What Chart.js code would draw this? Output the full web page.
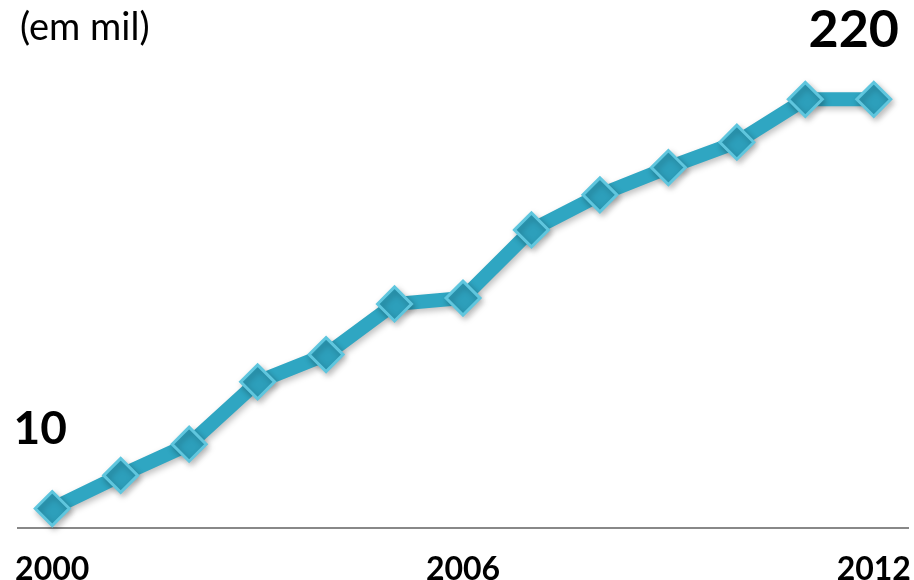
<!DOCTYPE html>
<html>
<head>
<meta charset="utf-8">
<script src="https://cdn.jsdelivr.net/npm/chart.js@4/dist/chart.umd.min.js"></script>
<style>
  html, body { margin: 0; padding: 0; background: #fff; }
  #wrap { width: 914px; height: 580px; position: relative; }
</style>
</head>
<body>
<div id="wrap"><canvas id="line-chart"></canvas></div>
<script>
const years = ['2000','2001','2002','2003','2004','2005','2006','2007','2008','2009','2010','2011','2012'];
const values = [10, 27, 43, 75, 89, 115, 118, 153, 171, 185, 198, 220, 220];
const tickLabels = ['2000', '2006', '2012'];
const unitText = '(em mil)';

// labels for first and last values, plus the shadow under the line
const extras = {
  id: 'extras',
  beforeDatasetDraw(chart) {
    const ctx = chart.ctx;
    ctx.save();
    ctx.shadowColor = 'rgba(0,0,0,0.25)';
    ctx.shadowBlur = 6;
    ctx.shadowOffsetX = 2;
    ctx.shadowOffsetY = 3;
  },
  afterDatasetDraw(chart) {
    chart.ctx.restore();
  },
  afterDraw(chart) {
    const ctx = chart.ctx;
    const pts = chart.getDatasetMeta(0).data;
    const first = pts[0], last = pts[pts.length - 1];
    ctx.save();
    ctx.fillStyle = '#000';
    ctx.textAlign = 'center';
    ctx.textBaseline = 'middle';
    ctx.font = 'bold 46px Lato, "Open Sans", sans-serif';
    ctx.fillText(String(values[0]), first.x - 12, first.y - 79);
    ctx.font = 'bold 52px Lato, "Open Sans", sans-serif';
    ctx.fillText(String(values[values.length - 1]), last.x - 20, last.y - 69);
    ctx.font = '38px Lato, "Open Sans", sans-serif';
    ctx.textAlign = 'left';
    ctx.fillText(unitText, 20, 28);
    ctx.restore();
  }
};

new Chart(document.getElementById('line-chart'), {
  type: 'line',
  data: {
    labels: years,
    datasets: [{
      data: values,
      borderColor: '#2fa6c2',
      borderWidth: 14,
      fill: false,
      tension: 0,
      clip: false,
      pointStyle: 'rectRot',
      pointRadius: 17,
      pointHoverRadius: 17,
      pointBackgroundColor: '#2d9fbb',
      pointBorderColor: '#5fc6de',
      pointBorderWidth: 3
    }]
  },
  options: {
    responsive: true,
    maintainAspectRatio: false,
    animation: false,
    layout: { autoPadding: false, padding: { left: 18, right: 6, top: 0, bottom: 0 } },
    plugins: {
      legend: { display: false },
      tooltip: { enabled: false }
    },
    scales: {
      x: {
        offset: true,
        grid: { display: false, drawTicks: false },
        border: { display: true, color: '#888', width: 2 },
        ticks: {
          autoSkip: false,
          maxRotation: 0,
          padding: 22,
          color: '#000',
          font: { family: 'Lato, "Open Sans", sans-serif', size: 32, weight: 'bold' },
          callback: function(v, i) {
            return tickLabels.includes(years[i]) ? years[i] : '';
          }
        },
        afterFit: function(scale) {
          scale.height = 52;
          scale.paddingLeft = 0;
          scale.paddingRight = 0;
        }
      },
      y: {
        display: false,
        min: 0,
        max: 271
      }
    }
  },
  plugins: [extras]
});
</script>
</body>
</html>
